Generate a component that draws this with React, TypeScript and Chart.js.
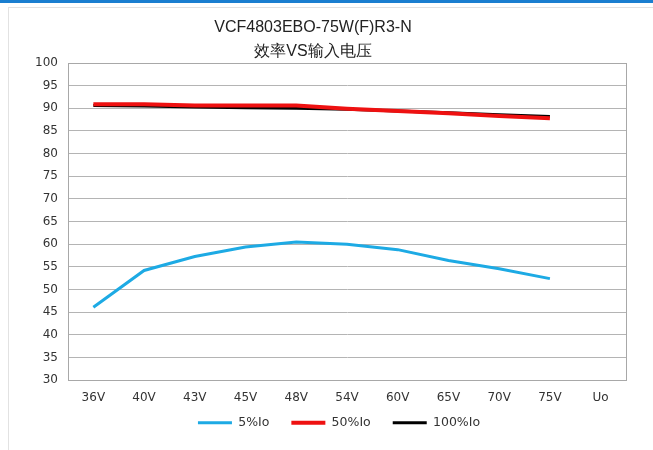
import React, { useEffect, useRef } from "react";
import { Chart, registerables } from "chart.js";

Chart.register(...registerables);

const categories = ["36V", "40V", "43V", "45V", "48V", "54V", "60V", "65V", "70V", "75V", "Uo"];
const eff5 = [46.1, 54.2, 57.3, 59.4, 60.5, 60.0, 58.8, 56.4, 54.6, 52.4, null];
const eff50 = [90.9, 90.9, 90.6, 90.6, 90.6, 89.9, 89.4, 88.9, 88.3, 87.8, null];
const eff100 = [90.6, 90.5, 90.3, 90.1, 90.0, 89.8, 89.4, 89.0, 88.6, 88.2, null];
const seriesNames = ["5%Io", "50%Io", "100%Io"];
const titleLines = ["VCF4803EBO-75W(F)R3-N", "效率VS输入电压"];
const yMin = 30;
const yMax = 100;
const yStep = 5;

const TITLE_FONT = "'Liberation Sans', Arial, sans-serif";
const TICK_FONT = "'DejaVu Sans', sans-serif";

const areaBorder = {
  id: "areaBorder",
  afterLayout(chart: any) {
    const lg = chart.legend;
    if (lg) {
      lg.top -= 22;
      lg.bottom -= 22;
      lg.left += 26;
      lg.right += 26;
    }
  },
  afterDatasetsDraw(chart: any) {
    const { ctx, chartArea } = chart;
    ctx.save();
    ctx.strokeStyle = "#a8a8a8";
    ctx.lineWidth = 1;
    ctx.strokeRect(
      Math.round(chartArea.left) + 0.5,
      Math.round(chartArea.top) + 0.5,
      Math.round(chartArea.right - chartArea.left),
      Math.round(chartArea.bottom - chartArea.top)
    );
    ctx.restore();
  },
};

export default function App() {
  const ref = useRef<HTMLCanvasElement | null>(null);

  useEffect(() => {
    if (!ref.current) return;
    const chart = new Chart(ref.current, {
      type: "line",
      data: {
        labels: categories,
        datasets: [
          {
            label: seriesNames[0],
            data: eff5,
            borderColor: "#1daae4",
            backgroundColor: "#1daae4",
            borderWidth: 3,
            pointRadius: 0,
            pointStyle: "line",
            tension: 0,
          },
          {
            label: seriesNames[1],
            data: eff50,
            borderColor: "#ee1111",
            backgroundColor: "#ee1111",
            borderWidth: 4,
            pointRadius: 0,
            pointStyle: "line",
            tension: 0,
          },
          {
            label: seriesNames[2],
            data: eff100,
            borderColor: "#000000",
            backgroundColor: "#000000",
            borderWidth: 3,
            pointRadius: 0,
            pointStyle: "line",
            tension: 0,
          },
        ],
      },
      options: {
        animation: false,
        responsive: true,
        maintainAspectRatio: false,
        layout: { padding: { left: 0, right: 27, top: 0, bottom: -11 } },
        scales: {
          x: {
            offset: true,
            grid: { display: false, drawTicks: false },
            border: { display: true, color: "#a8a8a8" },
            ticks: {
              color: "#333",
              font: { family: TICK_FONT, size: 12 },
              padding: 11,
              maxRotation: 0,
              autoSkip: false,
            },
          },
          y: {
            min: yMin,
            max: yMax,
            afterFit(axis: any) {
              axis.width = 68;
            },
            grid: { color: "#b4b4b4", drawTicks: false },
            border: { display: true, color: "#a8a8a8" },
            ticks: {
              stepSize: yStep,
              color: "#333",
              font: { family: TICK_FONT, size: 12 },
              padding: 10,
            },
          },
        },
        plugins: {
          title: {
            display: true,
            text: titleLines,
            color: "#222",
            font: { family: TITLE_FONT, size: 16, weight: "normal", lineHeight: 1.5 },
            padding: { top: 16, bottom: -1 },
          },
          legend: {
            position: "bottom",
            labels: {
              usePointStyle: true,
              pointStyleWidth: 34,
              color: "#333",
              font: { family: TICK_FONT, size: 12.5 },
              padding: 22,
            },
          },
          tooltip: { enabled: false },
        },
      },
      plugins: [areaBorder],
    });
    return () => chart.destroy();
  }, []);

  return (
    <div style={{ position: "absolute", left: 0, top: 0, width: 653, height: 450, background: "#fff", overflow: "hidden" }}>
      <div style={{ position: "absolute", left: 0, top: 0, width: 653, height: 3, background: "#1a7ed0" }} />
      <div
        style={{
          position: "absolute",
          left: 8,
          top: 7,
          width: 700,
          height: 500,
          borderLeft: "1px solid #e2e2e2",
          borderTop: "1px solid #e2e2e2",
        }}
      />
      <div style={{ position: "absolute", left: 0, top: 0, width: 653, height: 450 }}>
        <canvas ref={ref} />
      </div>
    </div>
  );
}
